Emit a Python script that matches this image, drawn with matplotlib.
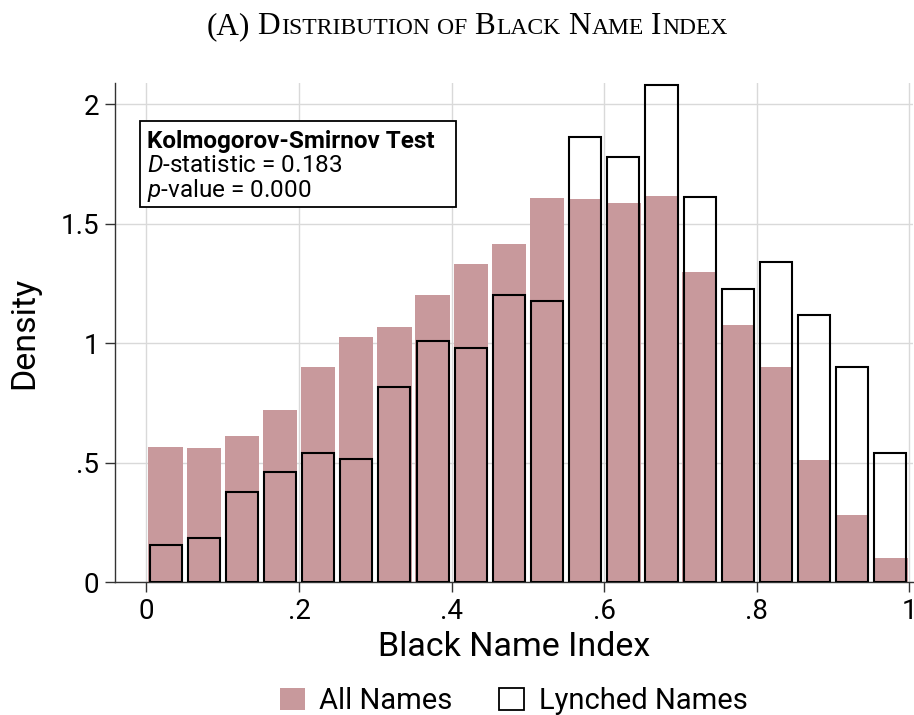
import numpy as np
import matplotlib.pyplot as plt
from matplotlib.patches import Rectangle, Patch
from matplotlib.font_manager import FontProperties

plt.rcParams['font.family'] = ['Roboto', 'DejaVu Sans']
plt.rcParams['mathtext.fontset'] = 'custom'
plt.rcParams['mathtext.rm'] = 'Roboto'
plt.rcParams['mathtext.it'] = 'Roboto:italic'

# histogram data (20 bins of width .05)
bin_left = np.arange(0, 1, 0.05)
all_names = [0.565, 0.561, 0.611, 0.720, 0.900, 1.025, 1.067, 1.200, 1.330, 1.414,
             1.606, 1.602, 1.585, 1.618, 1.297, 1.075, 0.900, 0.511, 0.281, 0.102]
lynched = [0.158, 0.185, 0.377, 0.460, 0.543, 0.515, 0.817, 1.010, 0.982, 1.202,
           1.175, 1.862, 1.779, 2.082, 1.614, 1.228, 1.340, 1.120, 0.901, 0.543]
xticks = [0, 0.2, 0.4, 0.6, 0.8, 1]
xticklabels = ['0', '.2', '.4', '.6', '.8', '1']
yticks = [0, 0.5, 1, 1.5, 2]
yticklabels = ['0', '.5', '1', '1.5', '2']
ks_title = 'Kolmogorov-Smirnov Test'
ks_d = 0.183
ks_p = 0.000

W, H = 914, 715
pink = '#c8999c'

def px(x, y):
    return x / W, 1 - y / H

fig = plt.figure(figsize=(W / 100, H / 100), dpi=100)
ax = fig.add_axes([115.2 / W, 1 - 582.3 / H, (913.3 - 115.2) / W, (582.3 - 83) / H])

centers = bin_left + 0.025
ax.bar(centers, all_names, width=0.045, color=pink, zorder=2)
ax.bar(centers, lynched, width=0.042, facecolor='none', edgecolor='black',
       linewidth=1.5, zorder=3)

ax.set_xlim(-0.041, 1.005)
ax.set_ylim(0, 2.089)
ax.set_xticks(xticks)
ax.set_xticklabels(xticklabels)
ax.set_yticks(yticks)
ax.set_yticklabels(yticklabels)
ax.grid(True, color='#d9d9d9', linewidth=1.0, zorder=0)
ax.set_axisbelow(True)
for s in ['top', 'right']:
    ax.spines[s].set_visible(False)
for s in ['left', 'bottom']:
    ax.spines[s].set_color('#333333')
    ax.spines[s].set_linewidth(1.0)
ax.tick_params(direction='out', length=7, width=1.0, color='#333333',
               labelsize=20, pad=4.5)
ax.set_xlabel('Black Name Index', fontsize=24.5, labelpad=4)
ax.set_ylabel('Density', fontsize=24.5, labelpad=15)

# KS test box
fig.patches.append(Rectangle(px(140, 207), (456 - 140) / W, (207 - 120.7) / H,
                             transform=fig.transFigure, facecolor='white',
                             edgecolor='black', linewidth=1.3, zorder=5))
fig.text(*px(147, 147.7), ks_title, fontsize=17.5, fontweight='bold',
         va='baseline', zorder=6)
fig.text(*px(147, 171.7), r'$D$-statistic = %.3f' % ks_d, fontsize=17.5,
         va='baseline', zorder=6)
fig.text(*px(147, 196.7), r'$p$-value = %.3f' % ks_p, fontsize=17.5,
         va='baseline', zorder=6)

# legend
handles = [Patch(facecolor=pink, edgecolor='none', label='All Names'),
           Patch(facecolor='white', edgecolor='black', linewidth=1.3,
                 label='Lynched Names')]
fig.legend(handles=handles, loc='lower center', bbox_to_anchor=(0.562, -0.037),
           ncol=2, frameon=False, fontsize=21, handlelength=0.85,
           handleheight=0.8, handletextpad=0.5, columnspacing=1.6)

# small caps title
def smallcaps(text, xc, yb, big, small, family):
    r = fig.canvas.get_renderer()
    runs = []
    for ch in text:
        kind = 'sp' if ch == ' ' else ('s' if ch.islower() else 'b')
        if runs and runs[-1][0] == kind:
            runs[-1][1] += ch
        else:
            runs.append([kind, ch])

    def width(s, size):
        fp = FontProperties(family=family, size=size)
        return r.get_text_width_height_descent(s, fp, ismath=False)[0]

    sp = width('x x', small) - width('xx', small)
    pieces = []
    total = 0
    for kind, s in runs:
        if kind == 'sp':
            w = sp * len(s)
            pieces.append((None, None, w))
        else:
            size = small if kind == 's' else big
            w = width(s.upper(), size) + 1.2
            pieces.append((s.upper(), size, w))
        total += w
    x = xc - total / 2
    for s, size, w in pieces:
        if s is not None:
            fig.text(*px(x, yb), s, fontsize=size, family=family, va='baseline')
        x += w

smallcaps('(A) Distribution of Black Name Index', 468, 34, 22.5, 17,
          'Liberation Serif')

fig.savefig('out.png', dpi=100)
